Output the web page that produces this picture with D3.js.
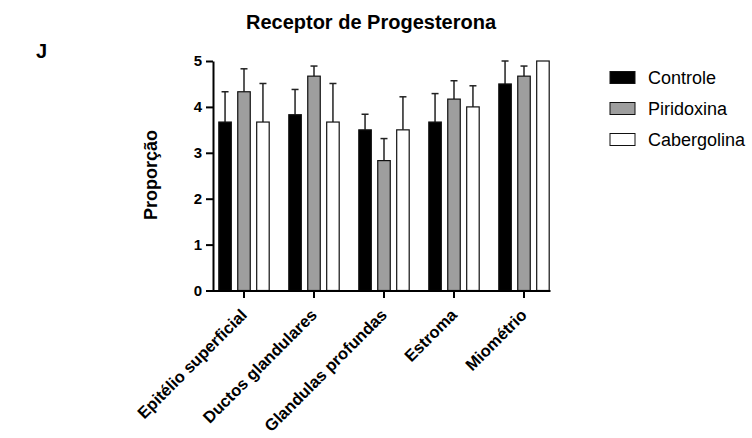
<!DOCTYPE html>
<meta charset="utf-8">
<head>
    <style>
        body { margin: 0; background: #fff; }
        text { font-family: Arial, "Liberation Sans", sans-serif; }
    </style>
    <script src="https://d3js.org/d3.v7.min.js"></script>
</head>
<body></body>
<script>

    var categories = ["Epitélio superficial", "Ductos glandulares", "Glandulas profundas", "Estroma", "Miométrio"],
        seriesNames = ["Controle", "Piridoxina", "Cabergolina"],
        seriesColors = ["#000000", "#9e9e9e", "#ffffff"];

    // mean values per series (same order as categories)
    var controle    = [3.67, 3.83, 3.50, 3.67, 4.50],
        piridoxina  = [4.33, 4.67, 2.83, 4.17, 4.67],
        cabergolina = [3.67, 3.67, 3.50, 4.00, 5.00];

    // top of error bars
    var controleErr    = [4.33, 4.38, 3.84, 4.29, 5.00],
        piridoxinaErr  = [4.83, 4.89, 3.31, 4.57, 4.89],
        cabergolinaErr = [4.51, 4.51, 4.22, 4.46, 5.00];

    var yTicks = [0, 1, 2, 3, 4, 5];

    var width = 752, height = 438;

    var svg = d3.select("body").append("svg")
        .attr("width", width)
        .attr("height", height);

    var y = d3.scaleLinear().domain([0, 5]).range([290.5, 61]);

    var x0 = d3.scaleBand().domain(categories).range([209, 559]).paddingInner(0.28).paddingOuter(0.14);
    var x1 = d3.scaleBand().domain(seriesNames).range([0, x0.bandwidth()]).paddingInner(0.34);

    var rows = [];
    var means = [controle, piridoxina, cabergolina],
        errs = [controleErr, piridoxinaErr, cabergolinaErr];
    categories.forEach(function(c, i) {
        seriesNames.forEach(function(s, j) {
            rows.push({cat: c, series: s, j: j, v: means[j][i], e: errs[j][i]});
        });
    });

    function cx(d) { return x0(d.cat) + x1(d.series) + x1.bandwidth() / 2; }

    // error bars (drawn first, bars sit over the lower part)
    var eb = svg.append("g").selectAll("g")
        .data(rows.filter(function(d) { return d.e > d.v; }))
        .enter().append("g")
        .attr("stroke", "#222").attr("stroke-width", 1.5);
    eb.append("line")
        .attr("x1", cx).attr("x2", cx)
        .attr("y1", function(d) { return y(d.v); })
        .attr("y2", function(d) { return y(d.e); });
    eb.append("line")
        .attr("x1", function(d) { return cx(d) - 3.5; })
        .attr("x2", function(d) { return cx(d) + 3.5; })
        .attr("y1", function(d) { return y(d.e); })
        .attr("y2", function(d) { return y(d.e); });

    svg.append("g").selectAll("rect")
        .data(rows)
        .enter().append("rect")
        .attr("x", function(d) { return x0(d.cat) + x1(d.series); })
        .attr("y", function(d) { return y(d.v); })
        .attr("width", x1.bandwidth())
        .attr("height", function(d) { return y(0) - y(d.v); })
        .attr("fill", function(d) { return seriesColors[d.j]; })
        .attr("stroke", "#111")
        .attr("stroke-width", 1.2);

    // y axis
    var yAxis = svg.append("g")
        .attr("transform", "translate(213,0)")
        .call(d3.axisLeft(y).tickValues(yTicks).tickFormat(d3.format("d")).tickSize(7).tickPadding(4).tickSizeOuter(0));
    yAxis.selectAll("line, path").attr("stroke", "#000").attr("stroke-width", 2);
    yAxis.selectAll("text").style("font-size", "15px").style("font-weight", "bold").attr("fill", "#000");

    // x axis
    var xAxis = svg.append("g")
        .attr("transform", "translate(0,291)")
        .call(d3.axisBottom(x0).tickSize(7).tickSizeOuter(0));
    xAxis.select(".domain").remove();
    xAxis.append("line").attr("x1", 212).attr("x2", 550.5).attr("stroke", "#000").attr("stroke-width", 2);
    xAxis.selectAll(".tick line").attr("stroke", "#000").attr("stroke-width", 2);
    xAxis.selectAll(".tick text")
        .style("font-size", "16.5px").style("font-weight", "bold").attr("fill", "#000")
        .attr("text-anchor", "end")
        .attr("x", 0).attr("y", 0).attr("dy", 0)
        .attr("transform", "translate(4,25) rotate(-45)");

    // titles
    svg.append("text").attr("x", 371).attr("y", 29).attr("text-anchor", "middle")
        .style("font-size", "20px").style("font-weight", "bold").text("Receptor de Progesterona");
    svg.append("text").attr("x", 36).attr("y", 58)
        .style("font-size", "20px").style("font-weight", "bold").text("J");
    svg.append("text").attr("transform", "translate(157,175) rotate(-90)").attr("text-anchor", "middle")
        .style("font-size", "18px").style("font-weight", "bold").text("Proporção");

    // legend
    var legend = svg.append("g").selectAll("g")
        .data(seriesNames)
        .enter().append("g")
        .attr("transform", function(d, i) { return "translate(610," + (77.5 + i * 31) + ")"; });
    legend.append("rect")
        .attr("x", 0).attr("y", -6).attr("width", 25).attr("height", 12)
        .attr("fill", function(d, i) { return seriesColors[i]; })
        .attr("stroke", "#111").attr("stroke-width", 1);
    legend.append("text")
        .attr("x", 38).attr("y", 0).attr("dy", "0.36em")
        .style("font-size", "18px").text(function(d) { return d; });

</script>
